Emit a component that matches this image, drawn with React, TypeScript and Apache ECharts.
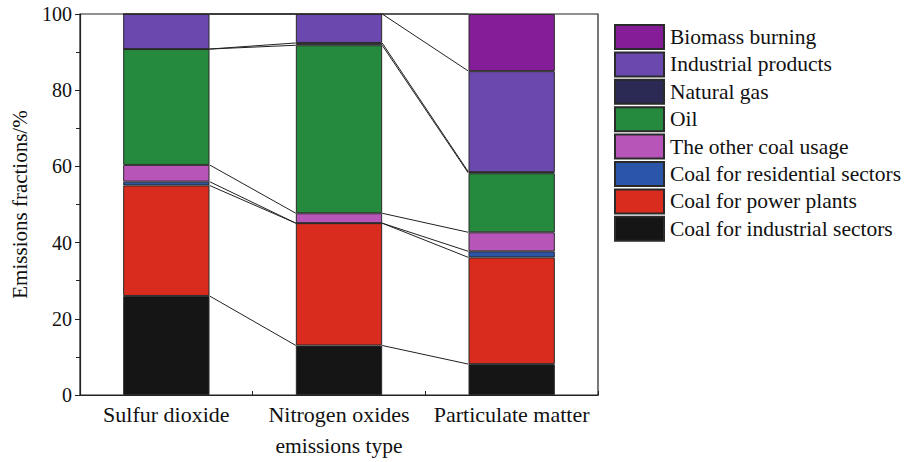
import React, { useEffect, useRef } from "react";
import * as echarts from "echarts";

const categories = ["Sulfur dioxide", "Nitrogen oxides", "Particulate matter"];

// stack order: bottom to top
const seriesNames = [
  "Coal for industrial sectors",
  "Coal for power plants",
  "Coal for residential sectors",
  "The other coal usage",
  "Oil",
  "Natural gas",
  "Industrial products",
  "Biomass burning",
];

const coalIndustrial = [26, 13, 8.1];
const coalPower = [29, 32.1, 28];
const coalResidential = [1, 0, 1.6];
const otherCoal = [4.4, 2.6, 5];
const oil = [30.4, 44.1, 15.5];
const naturalGas = [0, 0.6, 0.3];
const industrialProducts = [9.2, 7.6, 26.5];
const biomass = [0, 0, 15];

const seriesValues = [
  coalIndustrial,
  coalPower,
  coalResidential,
  otherCoal,
  oil,
  naturalGas,
  industrialProducts,
  biomass,
];

const colors = [
  "#151515",
  "#d92b1e",
  "#2b55a8",
  "#b855b8",
  "#258a3d",
  "#2a2a55",
  "#6b48ae",
  "#851d98",
];

const legendOrder = [...seriesNames].reverse();

const yTicks = { min: 0, max: 100, interval: 20 };

export default function App() {
  const ref = useRef<HTMLDivElement>(null);

  useEffect(() => {
    if (!ref.current) return;
    const chart = echarts.init(ref.current, undefined, { renderer: "svg" });
    const font = "'Liberation Serif', 'Times New Roman', serif";

    // cumulative tops for connecting lines
    const linkData: number[][] = [];
    const cum = categories.map(() => 0);
    seriesValues.forEach((vals) => {
      const tops = vals.map((v, i) => (cum[i] += v));
      for (let i = 0; i < categories.length - 1; i++) {
        linkData.push([i, tops[i], tops[i + 1]]);
      }
    });

    const barSeries = seriesNames.map((name, k) => ({
      name,
      type: "bar",
      stack: "total",
      barWidth: "50%",
      data: seriesValues[k],
      itemStyle: { color: colors[k], borderColor: "#2a2a2a", borderWidth: 1 },
      emphasis: { disabled: true },
    }));

    const linkSeries = {
      type: "custom",
      name: "links",
      data: linkData,
      encode: { x: 0, y: 1 },
      z: 5,
      silent: true,
      renderItem: (params: any, api: any) => {
        const i = api.value(0);
        const y1 = api.value(1);
        const y2 = api.value(2);
        const p1 = api.coord([i, y1]);
        const p2 = api.coord([i + 1, y2]);
        const hw = api.size([1, 0])[0] * 0.25;
        return {
          type: "line",
          shape: { x1: p1[0] + hw, y1: p1[1], x2: p2[0] - hw, y2: p2[1] },
          style: { stroke: "#222", lineWidth: 1 },
        };
      },
    };

    chart.setOption({
      animation: false,
      grid: {
        left: 80,
        top: 14,
        right: 307,
        bottom: 67,
        show: true,
        borderColor: "#222",
        borderWidth: 1.2,
        backgroundColor: "transparent",
      },
      legend: {
        data: legendOrder,
        orient: "vertical",
        left: 609,
        top: 19,
        itemWidth: 49,
        itemHeight: 24,
        itemGap: 1.4,
        icon: "rect",
        selectedMode: false,
        textStyle: {
          fontFamily: font,
          fontSize: 21.5,
          lineHeight: 24,
          color: "#111",
          padding: [0, 0, 0, 1],
        },
      },
      xAxis: {
        type: "category",
        data: categories,
        boundaryGap: true,
        axisLine: { show: true, lineStyle: { color: "#222", width: 1.2 } },
        axisTick: { show: true, inside: true, length: 4, lineStyle: { color: "#222" } },
        axisLabel: { interval: 0, fontFamily: font, fontSize: 22, color: "#111", margin: 8 },
        name: "emissions type",
        nameLocation: "middle",
        nameGap: 40,
        nameTextStyle: { fontFamily: font, fontSize: 21.5, color: "#111" },
      },
      yAxis: {
        type: "value",
        min: yTicks.min,
        max: yTicks.max,
        interval: yTicks.interval,
        splitLine: { show: false },
        axisLine: { show: true, lineStyle: { color: "#222", width: 1.2 } },
        axisTick: { show: true, inside: false, length: 5, lineStyle: { color: "#222" } },
        minorTick: { show: true, splitNumber: 2, length: 4, lineStyle: { color: "#222" } },
        axisLabel: { fontFamily: font, fontSize: 20, color: "#111", margin: 8 },
        name: "Emissions fractions/%",
        nameLocation: "middle",
        nameGap: 50,
        nameTextStyle: { fontFamily: font, fontSize: 21, color: "#111" },
      },
      series: [...barSeries, linkSeries],
    } as any);

    return () => chart.dispose();
  }, []);

  return (
    <div
      ref={ref}
      style={{ position: "absolute", left: 0, top: 0, width: 905, height: 462, background: "#fff" }}
    />
  );
}
